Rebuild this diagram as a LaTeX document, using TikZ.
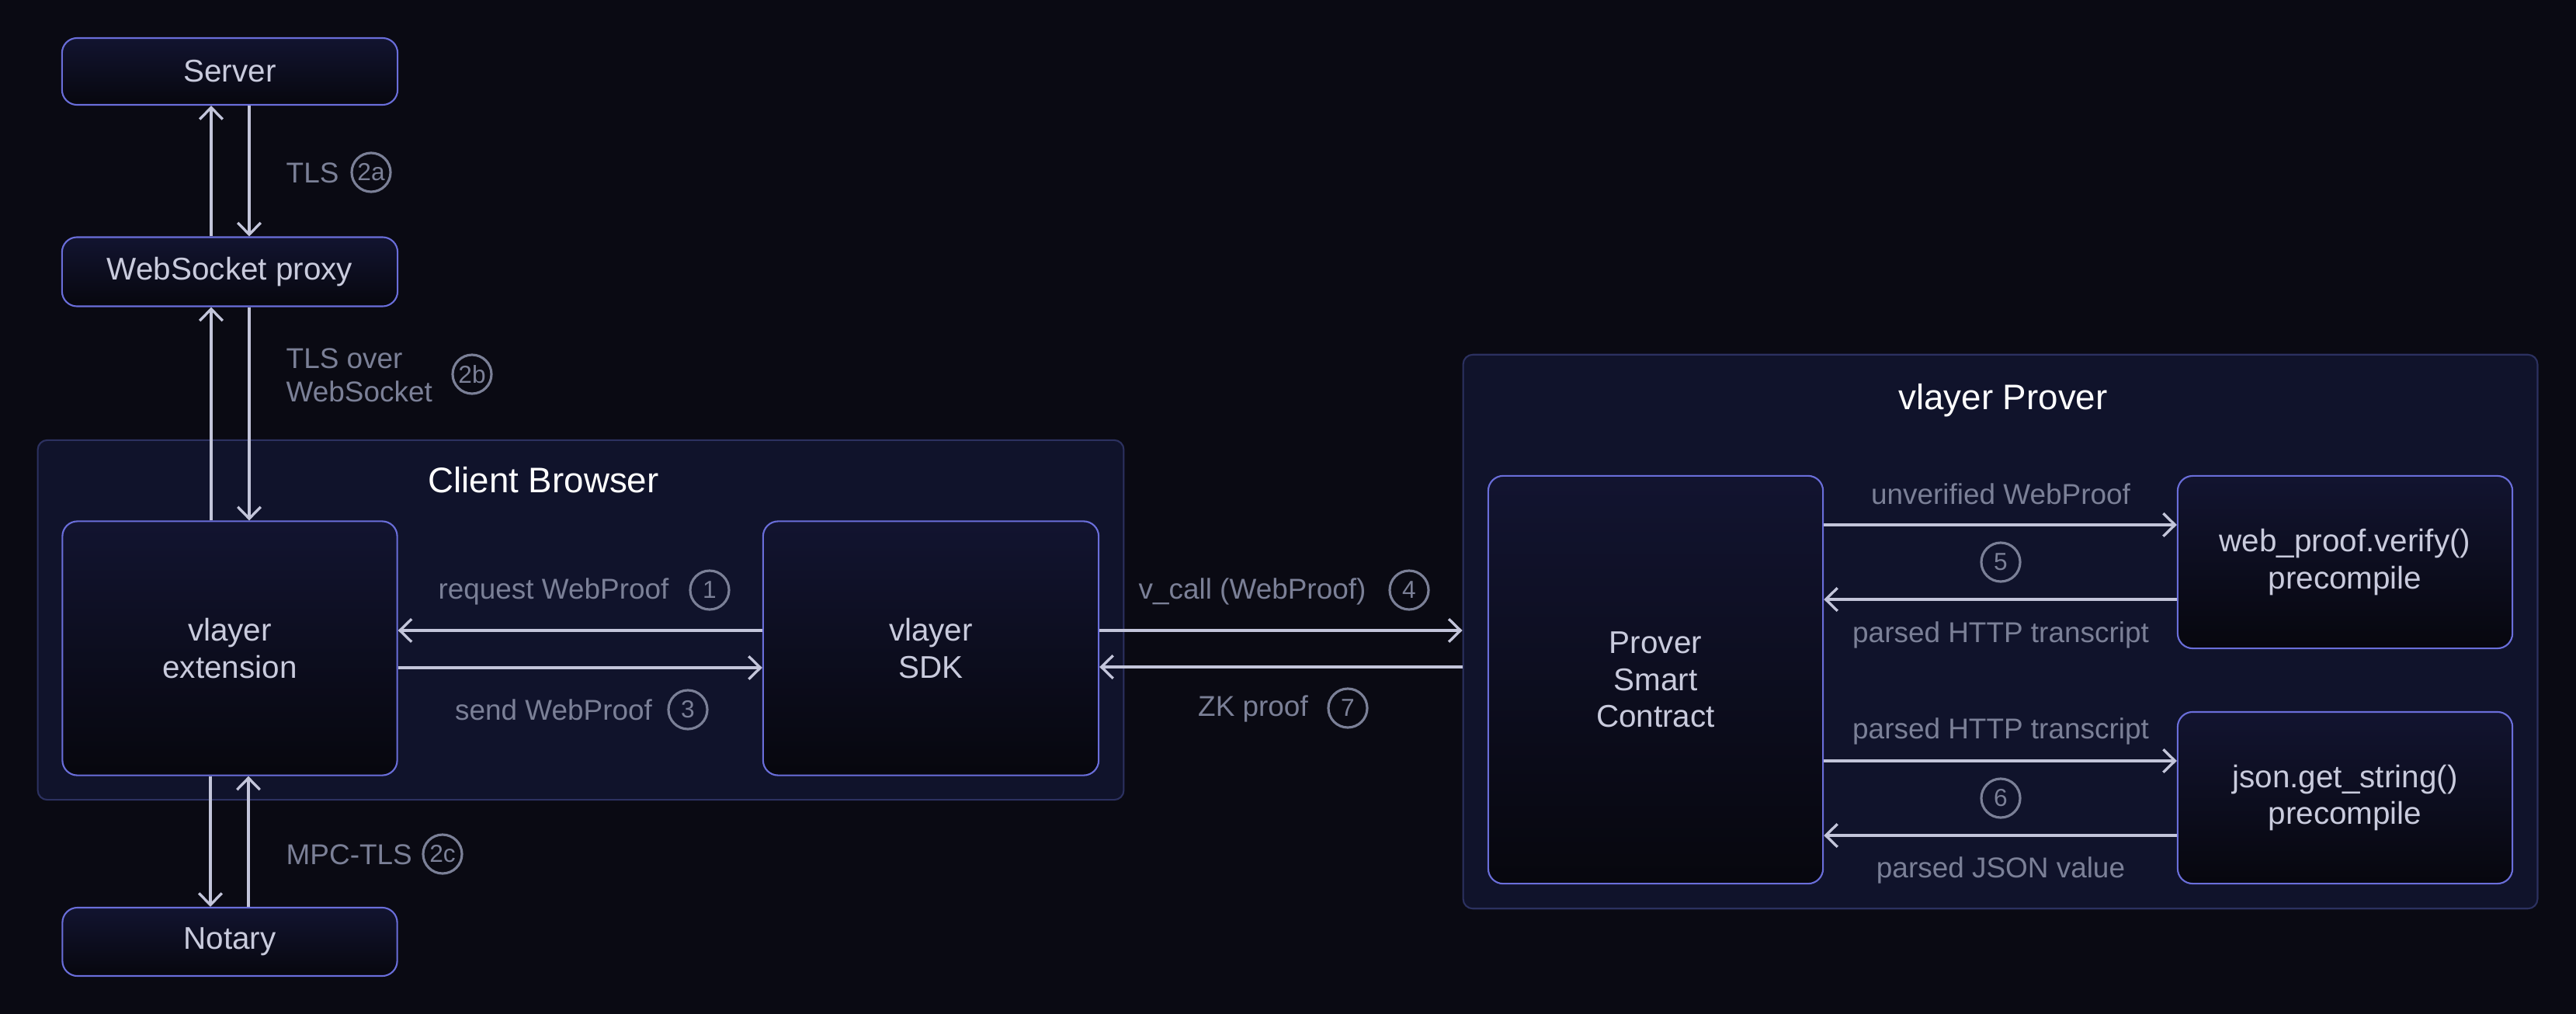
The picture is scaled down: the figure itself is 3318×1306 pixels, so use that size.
\documentclass[tikz,border=0pt]{standalone}
\usepackage{fontspec}
\setmainfont{Liberation Sans}
\usepackage{xcolor}
\usepackage{tikz}
\usetikzlibrary{arrows.meta,positioning}
\definecolor{bg}{HTML}{0A0A13}
\definecolor{grpfill}{HTML}{10132B}
\definecolor{grpline}{HTML}{2C3160}
\definecolor{blkline}{HTML}{6A6EDA}
\definecolor{blktop}{HTML}{121430}
\definecolor{blkbot}{HTML}{07070E}
\definecolor{txt}{HTML}{C9CBDD}
\definecolor{lblgray}{HTML}{7B8097}
\definecolor{arr}{HTML}{C3C5DA}
\tikzset{
blk/.style={rectangle,rounded corners=5.5pt,draw=blkline,line width=0.6pt,
top color=blktop,bottom color=blkbot,text=txt,align=center,
font=\fontsize{11.5}{13.5}\selectfont},
grp/.style={rectangle,rounded corners=3.5pt,draw=grpline,line width=0.6pt,fill=grpfill},
ttl/.style={text=white,font=\fontsize{13}{15}\selectfont},
lbl/.style={text=lblgray,inner sep=0pt,align=left,font=\fontsize{10.5}{12.2}\selectfont},
num/.style={circle,draw=lblgray,line width=0.9pt,text=lblgray,
minimum size=0.5cm,inner sep=0pt,font=\fontsize{9}{10}\selectfont},
flow/.style={draw=arr,line width=0.95pt,-{Straight Barb[length=4.3pt,width=8.4pt]}}
}

\begin{document}
\begin{tikzpicture}[x=0.01cm,y=-0.01cm]
\fill[bg] (0,0) rectangle (3318,1306);
\useasboundingbox (0,0) rectangle (3318,1306);

% the two groups
\node[grp,minimum width=13.98cm,minimum height=4.63cm] (cb) at (748,798.5) {};
\node[grp,minimum width=13.83cm,minimum height=7.13cm] (vp) at (2576.5,813.5) {};
\node[ttl] (cbt) at (700,618) {Client Browser};
\node[ttl] (vpt) at (2580,516) {vlayer Prover};

% boxes
\node[blk,minimum width=4.32cm,minimum height=0.86cm] (srv) at (296,92) {Server};
\node[blk,minimum width=4.32cm,minimum height=0.89cm] (wsp) at (296,350) {WebSocket proxy};
\node[blk,minimum width=4.31cm,minimum height=3.27cm] (ext) at (296,835) {vlayer\\extension};
\node[blk,minimum width=4.31cm,minimum height=0.88cm] (nota) at (296,1213) {Notary};
\node[blk,minimum width=4.32cm,minimum height=3.27cm] (sdk) at (1199,835) {vlayer\\SDK};
\node[blk,minimum width=4.31cm,minimum height=5.25cm] (psc) at (2132.5,875.5) {Prover\\Smart\\Contract};
\node[blk,minimum width=4.31cm,minimum height=2.22cm] (wpv) at (3020.5,724) {web\_proof.verify()\\precompile};
\node[blk,minimum width=4.31cm,minimum height=2.21cm] (json) at (3020.5,1027.5) {json.get\_string()\\precompile};

% left column
\draw[flow] ([xshift=-0.24cm]wsp.north) -- ([xshift=-0.24cm]srv.south);
\draw[flow] ([xshift=0.25cm]srv.south) -- ([xshift=0.25cm]wsp.north);
\draw[flow] ([xshift=-0.24cm]ext.north) -- ([xshift=-0.24cm]wsp.south);
\draw[flow] ([xshift=0.25cm]wsp.south) -- ([xshift=0.25cm]ext.north);
\draw[flow] ([xshift=-0.25cm]ext.south) -- ([xshift=-0.25cm]nota.north);
\draw[flow] ([xshift=0.24cm]nota.north) -- ([xshift=0.24cm]ext.south);

\node[lbl,anchor=west] (tls) at (368,223) {TLS};
\node[num] (n2a) at (478,222) {2a};
\node[lbl,anchor=west] (tlsws) at (368,483) {TLS over\\WebSocket};
\node[num] (n2b) at (608,482) {2b};
\node[lbl,anchor=west] (mpc) at (368,1101) {MPC-TLS};
\node[num] (n2c) at (570,1100) {2c};

% browser
\draw[flow] ([yshift=0.23cm]sdk.west) -- ([yshift=0.23cm]ext.east);
\draw[flow] ([yshift=-0.25cm]ext.east) -- ([yshift=-0.25cm]sdk.west);
\node[lbl] (req) at (713,762) {request WebProof};
\node[num] (n1) at (914,760) {1};
\node[lbl] (snd) at (713,914) {send WebProof};
\node[num] (n3) at (886,914) {3};

% browser to prover
\coordinate (vc) at ([yshift=0.23cm]sdk.east);
\coordinate (zk) at ([yshift=-0.24cm]sdk.east);
\draw[flow] (vc) -- (vc -| vp.west);
\draw[flow] (zk -| vp.west) -- (zk);
\node[lbl] (vcall) at (1613,762) {v\_call (WebProof)};
\node[num] (n4) at (1815,760) {4};
\node[lbl] (zkp) at (1614,913) {ZK proof};
\node[num] (n7) at (1736,912) {7};

% prover
\coordinate (u1) at ([yshift=0.48cm]wpv.west);
\coordinate (u2) at ([yshift=-0.48cm]wpv.west);
\coordinate (u3) at ([yshift=0.475cm]json.west);
\coordinate (u4) at ([yshift=-0.485cm]json.west);
\draw[flow] (u1 -| psc.east) -- (u1);
\draw[flow] (u2) -- (u2 -| psc.east);
\draw[flow] (u3 -| psc.east) -- (u3);
\draw[flow] (u4) -- (u4 -| psc.east);
\node[lbl] (unv) at (2577,636) {unverified WebProof};
\node[num] (n5) at (2577,724) {5};
\node[lbl] (pht) at (2577,818) {parsed HTTP transcript};
\node[lbl] (pht2) at (2577,942) {parsed HTTP transcript};
\node[num] (n6) at (2577,1028) {6};
\node[lbl] (pjv) at (2577,1121) {parsed JSON value};

\end{tikzpicture}
\end{document}
